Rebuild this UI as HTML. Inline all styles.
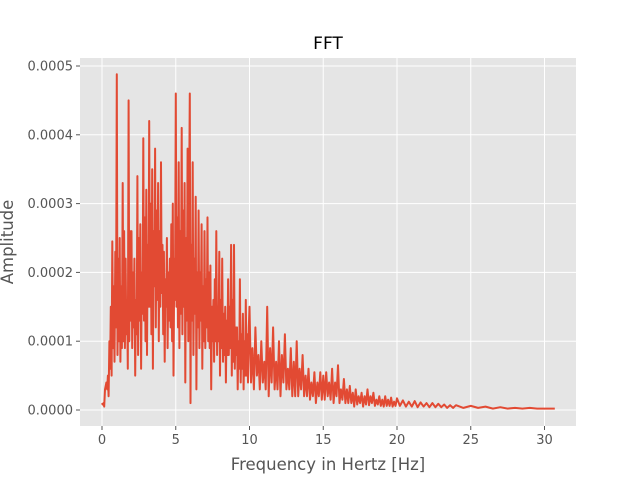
<!DOCTYPE html>
<html><head><meta charset="utf-8"><style>
body{margin:0;background:#fff;font-family:"Liberation Sans","DejaVu Sans",sans-serif}
svg text{font-family:"DejaVu Sans","Liberation Sans",sans-serif}
</style></head><body>
<svg id="chart" width="640" height="480">
<text x="328" y="49" font-size="17" text-anchor="middle" fill="#000">FFT</text>
<rect x="80" y="58" width="496" height="368" fill="#E5E5E5"/>
<g id="grid"></g>
<g id="series"></g>
<g id="axes"></g>
<text x="328" y="470" font-size="16.5" text-anchor="middle" fill="#555">Frequency in Hertz [Hz]</text>
<text x="0" y="0" font-size="16.5" text-anchor="middle" fill="#555" transform="translate(13,242) rotate(-90)">Amplitude</text>
</svg>
<script>
const xTicks=[0,5,10,15,20,25,30];
const yTicks=[0,0.0001,0.0002,0.0003,0.0004,0.0005];
const yTickLabels=["0.0000","0.0001","0.0002","0.0003","0.0004","0.0005"];
const dfLow=0.05;
const ampLow=[0.1,0.08,0.1,0.05,0.3,0.35,0.4,0.3,0.5,0.2,1.0,0.6,1.5,0.5,2.45,0.9,1.8,0.7,2.3,1.2,
4.88,0.8,2.2,1.0,2.5,0.7,1.8,0.9,3.3,1.0,2.6,0.9,2.2,1.1,1.6,0.6,4.5,1.0,2.6,1.3,
2.6,0.9,2.0,1.2,2.2,0.5,1.6,1.1,3.4,0.8,2.5,1.3,2.7,0.6,2.0,1.4,3.95,1.3,2.8,1.0,
3.2,0.8,2.4,1.5,4.2,1.5,3.0,1.1,3.5,0.6,2.6,1.8,3.8,1.2,2.9,1.6,3.3,1.0,2.6,1.5,
3.6,1.7,2.4,1.1,2.3,0.7,1.9,1.5,2.5,0.9,2.0,1.3,2.2,1.2,2.7,1.0,3.0,0.5,2.2,1.6,
4.6,1.5,2.8,1.2,3.6,0.9,2.6,1.4,4.1,1.1,2.9,1.5,3.3,0.4,2.5,1.3,3.8,1.0,2.9,4.6,
0.1,2.4,1.3,3.6,0.8,2.2,1.4,3.1,0.3,2.0,1.2,2.9,0.9,2.0,1.3,2.7,0.6,1.8,1.0,2.6,
0.9,1.9,1.2,2.8,1.0,2.0,0.9,2.1,0.3,1.5,1.0,1.6,0.7,1.9,1.0,2.6,0.8,1.5,1.0,2.3,
0.5,1.6,0.9,2.2,0.7,1.4,0.8,1.5,0.4,1.3,0.8,1.9,0.8,1.5,0.9,2.4,0.5,1.6,0.7,2.4,
0.6,1.2,0.8,1.2,0.3,1.0,0.6,1.9,0.4,1.1,0.6,1.4,0.3,1.0,0.5,1.6,0.5,1.1,0.4,1.2];
const dfMid=0.1;
const ampMid=[1.5,0.4,0.9,0.3,1.2,0.5,0.8,0.3,1.0,0.4,
0.7,0.3,1.5,0.2,0.9,0.4,1.2,0.3,0.7,0.3,
1.0,0.2,0.8,0.4,1.1,0.3,0.6,0.3,0.9,0.2,
0.7,0.2,1.0,0.2,0.6,0.3,0.8,0.2,0.5,0.2,
0.6,0.15,0.4,0.2,0.55,0.1,0.4,0.2,0.55,0.15,
0.5,0.15,0.55,0.2,0.4,0.15,0.6,0.1,0.4,0.2,
0.65,0.1,0.3,0.15,0.45,0.1,0.3,0.1,0.35,0.1,
0.25,0.05,0.3,0.08,0.2,0.1,0.25,0.05,0.2,0.08,
0.3,0.07,0.2,0.1,0.25,0.06,0.15,0.08,0.2,0.06,
0.15,0.05,0.2,0.06,0.15,0.06,0.18,0.05,0.12,0.06];
const freqsHigh=[20.0,20.2,20.4,20.6,20.8,21.0,21.2,21.4,21.6,21.8,22.0,22.2,22.4,22.6,22.8,23.0,23.2,23.4,23.6,23.8,24.0,24.5,25.0,25.5,26.0,26.5,27.0,27.5,28.0,28.5,29.0,29.5,30.0,30.7];
const ampHigh=[0.17,0.06,0.14,0.05,0.12,0.05,0.13,0.04,0.11,0.05,0.1,0.04,0.1,0.04,0.09,0.04,0.08,0.03,0.07,0.03,0.07,0.03,0.06,0.03,0.05,0.02,0.04,0.02,0.03,0.02,0.03,0.02,0.02,0.02];
const NS="http://www.w3.org/2000/svg";
const X0=80,X1=576,Y0=58,Y1=426;
function xs(f){return 102+f*14.75;}
function ys(v){return 410-v*688000;}
function mk(t,a,p){const e=document.createElementNS(NS,t);for(const k in a)e.setAttribute(k,a[k]);p.appendChild(e);return e;}
const grid=document.getElementById('grid'),axes=document.getElementById('axes'),series=document.getElementById('series');
xTicks.forEach(t=>{const x=xs(t);
 const g=mk('line',{x1:x,x2:x,y1:Y0,y2:Y1,stroke:'#fff','stroke-width':1},grid);
 
 
 mk('line',{x1:x,x2:x,y1:Y1,y2:Y1+4,stroke:'#555'},axes);
 const tx=mk('text',{x:x,y:Y1+18,'font-size':13,'text-anchor':'middle',fill:'#555'},axes);tx.textContent=t;
 
 
});
yTicks.forEach((t,i)=>{const y=ys(t);
 const g=mk('line',{x1:X0,x2:X1,y1:y,y2:y,stroke:'#fff','stroke-width':1},grid);
 
 
 mk('line',{x1:X0-4,x2:X0,y1:y,y2:y,stroke:'#555'},axes);
 const tx=mk('text',{x:X0-7,y:y+4.5,'font-size':13,'text-anchor':'end',fill:'#555'},axes);tx.textContent=yTickLabels[i];
 
 
});
const F=[],A=[];
ampLow.forEach((a,i)=>{F.push(i*dfLow);A.push(a);});
ampMid.forEach((a,i)=>{F.push(10+i*dfMid);A.push(a);});
freqsHigh.forEach((f,i)=>{F.push(f);A.push(ampHigh[i]);});
let d='';F.forEach((f,i)=>{d+=(i?'L':'M')+xs(f).toFixed(1)+','+ys(A[i]*1e-4).toFixed(1);});
const p=mk('path',{d:d,fill:'none',stroke:'#E24A33','stroke-width':2,'stroke-linejoin':'round'},series);


</script>
</body></html>
